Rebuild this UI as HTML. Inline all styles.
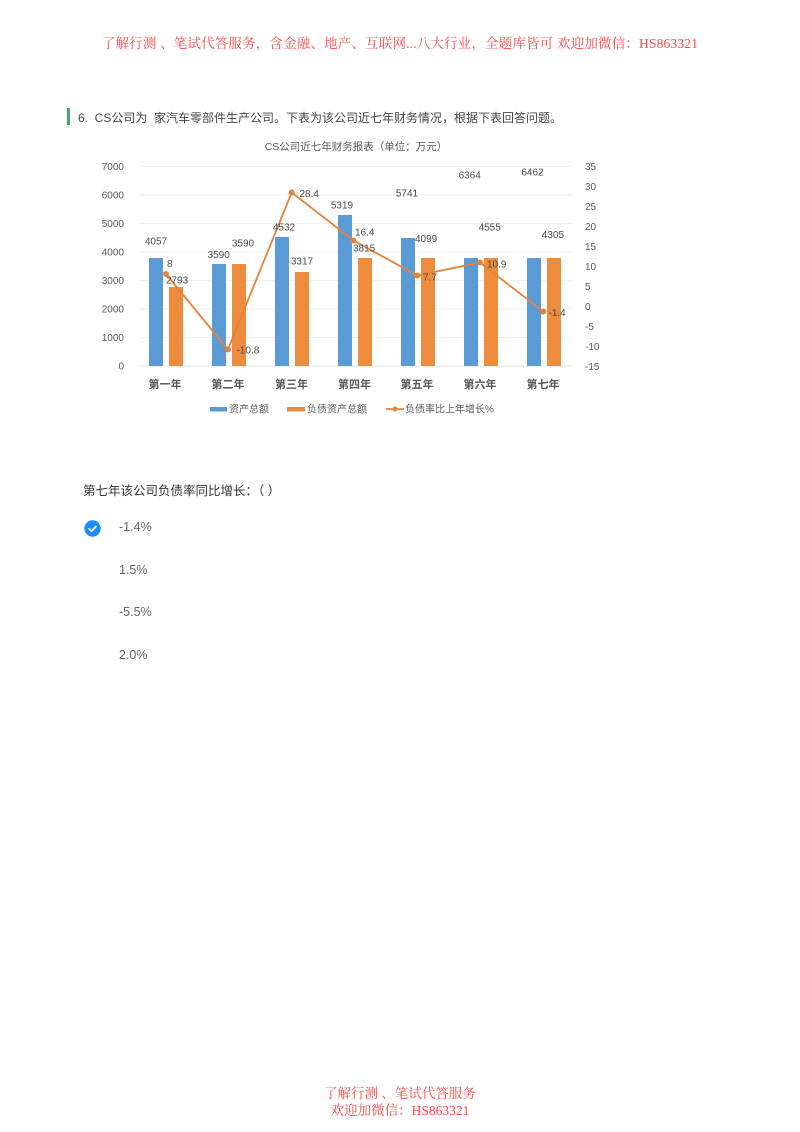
<!DOCTYPE html>
<html>
<head>
<meta charset="utf-8">
<style>
  html,body{margin:0;padding:0;background:#fff;}
  body{width:800px;height:1132px;position:relative;overflow:hidden;}
  .abs{position:absolute;white-space:nowrap;}
  .red{color:#ff4646;font-family:"Liberation Serif","Noto Serif CJK SC",serif;font-size:13.5px;}
  .q{color:#333;font-family:"Liberation Sans","Noto Sans CJK SC",sans-serif;font-size:12.5px;}
  .opt{color:#666;font-family:"Liberation Sans","Noto Sans CJK SC",sans-serif;font-size:12.5px;}
</style>
</head>
<body>
<div class="abs red" style="left:0;width:800px;text-align:center;top:32px;letter-spacing:0.17px;">了解行测 、笔试代答服务，含金融、地产、互联网...八大行业，全题库皆可 欢迎加微信：HS863321</div>

<div class="abs" style="left:67px;top:108px;width:2.5px;height:17px;background:#3dab6a;"></div>
<div class="abs q" style="left:78px;top:109px;color:#444;font-size:12px;">6.&nbsp; CS公司为&nbsp;&nbsp;家汽车零部件生产公司。下表为该公司近七年财务情况，根据下表回答问题。</div>

<svg class="abs" style="left:0;top:0;" width="800" height="440" viewBox="0 0 800 440" xmlns="http://www.w3.org/2000/svg" font-family="Liberation Sans, Noto Sans CJK SC, sans-serif">
  <text x="356" y="150" font-size="10.5" fill="#595959" text-anchor="middle">CS公司近七年财务报表（单位：万元）</text>
  <!-- gridlines -->
  <g stroke="#efefef" stroke-width="1">
    <line x1="140" y1="166.5" x2="572" y2="166.5"/>
    <line x1="140" y1="195" x2="572" y2="195"/>
    <line x1="140" y1="223.5" x2="572" y2="223.5"/>
    <line x1="140" y1="252" x2="572" y2="252"/>
    <line x1="140" y1="280.5" x2="572" y2="280.5"/>
    <line x1="140" y1="309" x2="572" y2="309"/>
    <line x1="140" y1="337.5" x2="572" y2="337.5"/>
  </g>
  <line x1="140" y1="366" x2="572" y2="366" stroke="#e0e0e0" stroke-width="1"/>
  <!-- left axis -->
  <g font-size="10" fill="#595959" text-anchor="end">
    <text x="124" y="170">7000</text>
    <text x="124" y="198.5">6000</text>
    <text x="124" y="227">5000</text>
    <text x="124" y="255.5">4000</text>
    <text x="124" y="284">3000</text>
    <text x="124" y="312.5">2000</text>
    <text x="124" y="341">1000</text>
    <text x="124" y="369.5">0</text>
  </g>
  <!-- right axis -->
  <g font-size="10" fill="#595959" text-anchor="start">
    <text x="585" y="170">35</text>
    <text x="585" y="190">30</text>
    <text x="585" y="210">25</text>
    <text x="585" y="230">20</text>
    <text x="585" y="250">15</text>
    <text x="585" y="270">10</text>
    <text x="585" y="290">5</text>
    <text x="585" y="310">0</text>
    <text x="585" y="330">-5</text>
    <text x="585" y="350">-10</text>
    <text x="585" y="370">-15</text>
  </g>
  <!-- bars -->
  <g fill="#5b9bd5">
    <rect x="149" y="258" width="14" height="108"/>
    <rect x="212" y="264" width="14" height="102"/>
    <rect x="275" y="237" width="14" height="129"/>
    <rect x="338" y="215" width="14" height="151"/>
    <rect x="401" y="238" width="14" height="128"/>
    <rect x="464" y="258" width="14" height="108"/>
    <rect x="527" y="258" width="14" height="108"/>
  </g>
  <g fill="#ed8b3f">
    <rect x="169" y="287" width="14" height="79"/>
    <rect x="232" y="264" width="14" height="102"/>
    <rect x="295" y="272" width="14" height="94"/>
    <rect x="358" y="258" width="14" height="108"/>
    <rect x="421" y="258" width="14" height="108"/>
    <rect x="484" y="258" width="14" height="108"/>
    <rect x="547" y="258" width="14" height="108"/>
  </g>
  <!-- line -->
  <polyline points="166,274 228,349.5 291.7,192.5 353.5,240.5 417.3,275.5 480,262.5 543.3,311.6" fill="none" stroke="#e6823a" stroke-width="1.8"/>
  <g fill="#e6823a">
    <circle cx="166" cy="274" r="3"/>
    <circle cx="228" cy="349.5" r="3"/>
    <circle cx="291.7" cy="192.5" r="3"/>
    <circle cx="353.5" cy="240.5" r="3"/>
    <circle cx="417.3" cy="275.5" r="3"/>
    <circle cx="480" cy="262.5" r="3"/>
    <circle cx="543.3" cy="311.6" r="3"/>
  </g>
  <!-- data labels -->
  <g font-size="10" fill="#4a4a4a">
    <text x="156" y="244.5" text-anchor="middle">4057</text>
    <text x="167" y="267">8</text>
    <text x="166" y="283.5">2793</text>
    <text x="218.7" y="258" text-anchor="middle">3590</text>
    <text x="243" y="246.5" text-anchor="middle">3590</text>
    <text x="236.5" y="353.5">-10.8</text>
    <text x="284" y="230.5" text-anchor="middle">4532</text>
    <text x="302" y="264.5" text-anchor="middle">3317</text>
    <text x="299.5" y="197">28.4</text>
    <text x="342" y="208.5" text-anchor="middle">5319</text>
    <text x="355" y="235.5">16.4</text>
    <text x="353" y="251.5">3815</text>
    <text x="407" y="196.5" text-anchor="middle">5741</text>
    <text x="415" y="242">4099</text>
    <text x="423" y="280.5">7.7</text>
    <text x="469.7" y="178.5" text-anchor="middle">6364</text>
    <text x="489.7" y="230.5" text-anchor="middle">4555</text>
    <text x="487" y="267.5">10.9</text>
    <text x="532.5" y="175.5" text-anchor="middle">6462</text>
    <text x="552.9" y="238" text-anchor="middle">4305</text>
    <text x="548.5" y="316">-1.4</text>
  </g>
  <!-- category labels -->
  <g font-size="11" fill="#595959" font-weight="bold" text-anchor="middle">
    <text x="165" y="388">第一年</text>
    <text x="228" y="388">第二年</text>
    <text x="291.5" y="388">第三年</text>
    <text x="354.5" y="388">第四年</text>
    <text x="417" y="388">第五年</text>
    <text x="480" y="388">第六年</text>
    <text x="543" y="388">第七年</text>
  </g>
  <!-- legend -->
  <rect x="210" y="407" width="17" height="4.5" fill="#5b9bd5"/>
  <text x="229" y="412.5" font-size="10" fill="#595959">资产总额</text>
  <rect x="287" y="407" width="18" height="4.5" fill="#ed8b3f"/>
  <text x="307" y="412.5" font-size="10" fill="#595959">负债资产总额</text>
  <line x1="386" y1="409" x2="404" y2="409" stroke="#e6823a" stroke-width="1.8"/>
  <circle cx="395" cy="409" r="2.5" fill="#e6823a"/>
  <text x="405" y="412.5" font-size="10" fill="#595959">负债率比上年增长%</text>
</svg>

<div class="abs q" style="left:83px;top:480px;">第七年该公司负债率同比增长：（ ）</div>

<svg class="abs" style="left:84px;top:520px;" width="17" height="17" viewBox="0 0 17 17">
  <circle cx="8.5" cy="8.5" r="8.2" fill="#1a8cff"/>
  <polyline points="5,8.8 7.5,11.2 12,6.5" fill="none" stroke="#fff" stroke-width="1.8" stroke-linecap="round" stroke-linejoin="round"/>
</svg>

<div class="abs opt" style="left:119px;top:520px;">-1.4%</div>
<div class="abs opt" style="left:119px;top:563px;">1.5%</div>
<div class="abs opt" style="left:119px;top:605px;">-5.5%</div>
<div class="abs opt" style="left:119px;top:648px;">2.0%</div>

<div class="abs red" style="left:0;width:800px;text-align:center;top:1082px;">了解行测 、笔试代答服务</div>
<div class="abs red" style="left:0;width:800px;text-align:center;top:1099px;">欢迎加微信：HS863321</div>
</body>
</html>
